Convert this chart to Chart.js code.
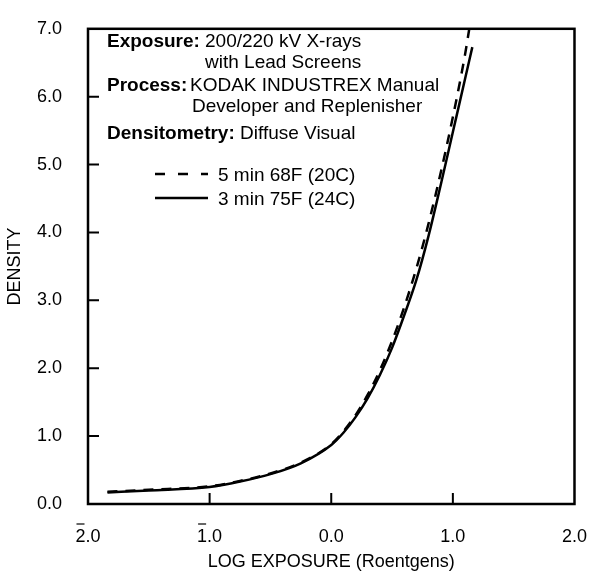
<!DOCTYPE html>
<html>
<head>
<meta charset="utf-8">
<script src="https://cdn.jsdelivr.net/npm/chart.js@4.4.0/dist/chart.umd.min.js"></script>
<style>
  html, body { margin: 0; padding: 0; background: #fff; }
  #wrap { width: 601px; height: 573px; }
</style>
</head>
<body>
<div id="wrap"><canvas id="curve"></canvas></div>
<script>
// log exposure values (x) and density readings for each process
var logExposure = [-1.84, -1.5, -1.0, -0.75, -0.5, -0.25, 0.0, 0.1, 0.2, 0.3, 0.4, 0.5, 0.6, 0.7, 0.8, 0.9, 1.0, 1.1, 1.16];
var density5min = [0.18, 0.21, 0.26, 0.34, 0.45, 0.61, 0.88, 1.07, 1.31, 1.61, 1.97, 2.40, 2.90, 3.47, 4.13, 4.88, 5.70, 6.62, 7.0];
var density3min = [0.17, 0.20, 0.25, 0.33, 0.44, 0.60, 0.87, 1.05, 1.28, 1.56, 1.90, 2.30, 2.78, 3.30, 3.95, 4.70, 5.48, 6.26, 6.73];
var xDash = [-1.84, -1.5, -1.0, -0.75, -0.5, -0.25, 0.0, 0.1, 0.2, 0.3, 0.4, 0.5, 0.6, 0.7, 0.8, 0.9, 1.0, 1.1, 1.135];
var seriesNames = ['5 min 68F (20C)', '3 min 75F (24C)'];
var xTicks = [-2, -1, 0, 1, 2];
var yTicks = [0, 1, 2, 3, 4, 5, 6, 7];

var FONT = '"Liberation Sans", Arial, sans-serif';

function points(xs, ys) {
    var out = [];
    for (var i = 0; i < xs.length; i++) out.push({ x: xs[i], y: ys[i] });
    return out;
}

// frame, inner ticks, bars over negative labels, notes and legend
var decorations = {
    id: 'decorations',
    afterDraw: function(chart) {
        var ctx = chart.ctx;
        var a = chart.chartArea;
        var xs = chart.scales.x, ys = chart.scales.y;
        ctx.save();
        ctx.strokeStyle = '#000';
        ctx.lineWidth = 2.5;
        ctx.strokeRect(a.left, a.top, a.right - a.left, a.bottom - a.top);

        ctx.lineWidth = 2;
        ctx.beginPath();
        for (var i = 1; i < yTicks.length - 1; i++) {
            var py = ys.getPixelForValue(yTicks[i]);
            ctx.moveTo(a.left, py);
            ctx.lineTo(a.left + 11, py);
        }
        for (var j = 1; j < xTicks.length - 1; j++) {
            var px = xs.getPixelForValue(xTicks[j]);
            ctx.moveTo(px, a.bottom);
            ctx.lineTo(px, a.bottom - 11);
        }
        ctx.stroke();

        // bar notation for negative characteristic
        ctx.font = '18px ' + FONT;
        ctx.lineWidth = 1.2;
        xTicks.forEach(function(v) {
            if (v < 0) {
                var cx = xs.getPixelForValue(v);
                var w = ctx.measureText(Math.abs(v).toFixed(1)).width;
                var d = ctx.measureText(String(Math.abs(v))).width;
                var x0 = cx - w / 2;
                ctx.beginPath();
                ctx.moveTo(x0 + 1, a.bottom + 20);
                ctx.lineTo(x0 + d - 1, a.bottom + 20);
                ctx.stroke();
            }
        });

        ctx.fillStyle = '#000';
        ctx.textBaseline = 'alphabetic';
        ctx.textAlign = 'left';
        var bold = 'bold 19px ' + FONT, reg = '19px ' + FONT;
        ctx.font = bold; ctx.fillText('Exposure:', 107, 47);
        ctx.font = reg;  ctx.fillText('200/220 kV X-rays', 205, 47);
        ctx.fillText('with Lead Screens', 205, 68);
        ctx.font = bold; ctx.fillText('Process:', 107, 91);
        ctx.font = reg;  ctx.fillText('KODAK INDUSTREX Manual', 190, 91);
        ctx.fillText('Developer and Replenisher', 192, 112);
        ctx.font = bold; ctx.fillText('Densitometry:', 107, 139);
        ctx.font = reg;  ctx.fillText('Diffuse Visual', 240, 139);

        var rows = [174, 198];
        var sampleDash = [[10, 13], []];
        chart.data.datasets.forEach(function(ds, k) {
            ctx.strokeStyle = ds.borderColor;
            ctx.lineWidth = ds.borderWidth;
            ctx.setLineDash(sampleDash[k]);
            ctx.beginPath();
            ctx.moveTo(155, rows[k]);
            ctx.lineTo(208, rows[k]);
            ctx.stroke();
            ctx.setLineDash([]);
            ctx.fillText(ds.label, 218, rows[k] + 7);
        });
        ctx.restore();
    }
};

new Chart(document.getElementById('curve'), {
    type: 'line',
    data: {
        datasets: [{
            label: seriesNames[0],
            data: points(xDash, density5min),
            borderColor: '#000',
            borderWidth: 2.5,
            borderDash: [10, 8],
            pointRadius: 0,
            cubicInterpolationMode: 'monotone',
            fill: false
        }, {
            label: seriesNames[1],
            data: points(logExposure, density3min),
            borderColor: '#000',
            borderWidth: 2.5,
            pointRadius: 0,
            cubicInterpolationMode: 'monotone',
            fill: false
        }]
    },
    options: {
        responsive: true,
        maintainAspectRatio: false,
        animation: false,
        layout: { padding: { top: 13, right: 19, left: 0, bottom: 0 } },
        plugins: { legend: { display: false }, tooltip: { enabled: false } },
        scales: {
            x: {
                type: 'linear', min: -2, max: 2,
                grid: { display: false }, border: { display: false },
                afterBuildTicks: function(s) { s.ticks = xTicks.map(function(v) { return { value: v }; }); },
                afterFit: function(s) { s.height = 69; },
                ticks: {
                    color: '#000', padding: 14,
                    font: { family: FONT, size: 18 },
                    callback: function(v) { return Math.abs(v).toFixed(1); }
                },
                title: { display: true, text: 'LOG EXPOSURE (Roentgens)', color: '#000',
                         font: { family: FONT, size: 18 }, padding: { top: 4, bottom: 0 } }
            },
            y: {
                min: 0, max: 7,
                grid: { display: false }, border: { display: false },
                afterBuildTicks: function(s) { s.ticks = yTicks.map(function(v) { return { value: v }; }); },
                afterFit: function(s) { s.width = 88; },
                ticks: {
                    color: '#000', padding: 18,
                    font: { family: FONT, size: 18 },
                    callback: function(v) { return v.toFixed(1); }
                },
                title: { display: true, text: 'DENSITY', color: '#000',
                         font: { family: FONT, size: 18 }, padding: { top: 4, bottom: 0 } }
            }
        }
    },
    plugins: [decorations]
});
</script>
</body>
</html>
